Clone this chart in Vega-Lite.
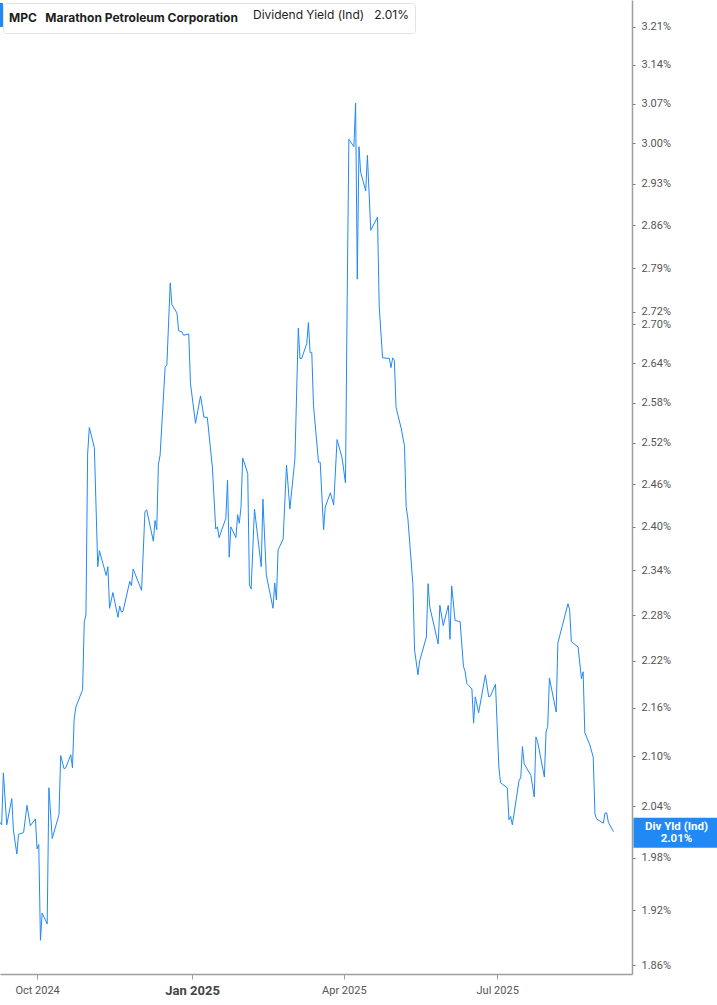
{
  "$schema": "https://vega.github.io/schema/vega-lite/v6.json",
  "width": 632,
  "height": 974,
  "autosize": {"type": "none"},
  "padding": {"left": 0, "top": 0, "right": 85, "bottom": 31},
  "background": "white",
  "config": {"view": {"stroke": null}, "font": "Roboto"},
  "data": {"values": [
    {"date": "2024-09-09", "yield": 2.021},
    {"date": "2024-09-10", "yield": 2.018},
    {"date": "2024-09-11", "yield": 2.080},
    {"date": "2024-09-13", "yield": 2.018},
    {"date": "2024-09-16", "yield": 2.049},
    {"date": "2024-09-17", "yield": 2.011},
    {"date": "2024-09-19", "yield": 1.984},
    {"date": "2024-09-20", "yield": 2.007},
    {"date": "2024-09-23", "yield": 2.009},
    {"date": "2024-09-25", "yield": 2.041},
    {"date": "2024-09-27", "yield": 2.017},
    {"date": "2024-09-30", "yield": 2.025},
    {"date": "2024-10-01", "yield": 1.990},
    {"date": "2024-10-02", "yield": 1.995},
    {"date": "2024-10-03", "yield": 1.887},
    {"date": "2024-10-04", "yield": 1.917},
    {"date": "2024-10-07", "yield": 1.905},
    {"date": "2024-10-08", "yield": 2.062},
    {"date": "2024-10-10", "yield": 2.002},
    {"date": "2024-10-14", "yield": 2.030},
    {"date": "2024-10-15", "yield": 2.101},
    {"date": "2024-10-17", "yield": 2.085},
    {"date": "2024-10-18", "yield": 2.086},
    {"date": "2024-10-21", "yield": 2.102},
    {"date": "2024-10-22", "yield": 2.086},
    {"date": "2024-10-23", "yield": 2.146},
    {"date": "2024-10-24", "yield": 2.161},
    {"date": "2024-10-28", "yield": 2.183},
    {"date": "2024-10-29", "yield": 2.271},
    {"date": "2024-10-30", "yield": 2.280},
    {"date": "2024-10-31", "yield": 2.504},
    {"date": "2024-11-01", "yield": 2.543},
    {"date": "2024-11-04", "yield": 2.513},
    {"date": "2024-11-06", "yield": 2.345},
    {"date": "2024-11-07", "yield": 2.367},
    {"date": "2024-11-11", "yield": 2.333},
    {"date": "2024-11-12", "yield": 2.345},
    {"date": "2024-11-13", "yield": 2.289},
    {"date": "2024-11-15", "yield": 2.310},
    {"date": "2024-11-18", "yield": 2.277},
    {"date": "2024-11-19", "yield": 2.292},
    {"date": "2024-11-20", "yield": 2.284},
    {"date": "2024-11-21", "yield": 2.285},
    {"date": "2024-11-25", "yield": 2.325},
    {"date": "2024-11-26", "yield": 2.319},
    {"date": "2024-11-27", "yield": 2.342},
    {"date": "2024-12-02", "yield": 2.313},
    {"date": "2024-12-04", "yield": 2.421},
    {"date": "2024-12-05", "yield": 2.424},
    {"date": "2024-12-09", "yield": 2.380},
    {"date": "2024-12-10", "yield": 2.409},
    {"date": "2024-12-11", "yield": 2.396},
    {"date": "2024-12-12", "yield": 2.489},
    {"date": "2024-12-13", "yield": 2.502},
    {"date": "2024-12-16", "yield": 2.634},
    {"date": "2024-12-17", "yield": 2.637},
    {"date": "2024-12-19", "yield": 2.766},
    {"date": "2024-12-20", "yield": 2.731},
    {"date": "2024-12-23", "yield": 2.718},
    {"date": "2024-12-24", "yield": 2.690},
    {"date": "2024-12-26", "yield": 2.688},
    {"date": "2024-12-27", "yield": 2.683},
    {"date": "2024-12-30", "yield": 2.685},
    {"date": "2024-12-31", "yield": 2.609},
    {"date": "2025-01-03", "yield": 2.549},
    {"date": "2025-01-06", "yield": 2.590},
    {"date": "2025-01-08", "yield": 2.558},
    {"date": "2025-01-10", "yield": 2.558},
    {"date": "2025-01-13", "yield": 2.485},
    {"date": "2025-01-15", "yield": 2.397},
    {"date": "2025-01-16", "yield": 2.400},
    {"date": "2025-01-17", "yield": 2.385},
    {"date": "2025-01-21", "yield": 2.412},
    {"date": "2025-01-22", "yield": 2.466},
    {"date": "2025-01-23", "yield": 2.358},
    {"date": "2025-01-24", "yield": 2.400},
    {"date": "2025-01-27", "yield": 2.385},
    {"date": "2025-01-28", "yield": 2.417},
    {"date": "2025-01-29", "yield": 2.405},
    {"date": "2025-01-30", "yield": 2.428},
    {"date": "2025-01-31", "yield": 2.498},
    {"date": "2025-02-03", "yield": 2.476},
    {"date": "2025-02-04", "yield": 2.320},
    {"date": "2025-02-05", "yield": 2.315},
    {"date": "2025-02-07", "yield": 2.425},
    {"date": "2025-02-11", "yield": 2.345},
    {"date": "2025-02-12", "yield": 2.439},
    {"date": "2025-02-14", "yield": 2.334},
    {"date": "2025-02-18", "yield": 2.289},
    {"date": "2025-02-19", "yield": 2.323},
    {"date": "2025-02-20", "yield": 2.300},
    {"date": "2025-02-21", "yield": 2.368},
    {"date": "2025-02-24", "yield": 2.383},
    {"date": "2025-02-26", "yield": 2.488},
    {"date": "2025-02-28", "yield": 2.425},
    {"date": "2025-03-03", "yield": 2.497},
    {"date": "2025-03-05", "yield": 2.694},
    {"date": "2025-03-06", "yield": 2.647},
    {"date": "2025-03-07", "yield": 2.647},
    {"date": "2025-03-10", "yield": 2.670},
    {"date": "2025-03-11", "yield": 2.703},
    {"date": "2025-03-12", "yield": 2.656},
    {"date": "2025-03-13", "yield": 2.656},
    {"date": "2025-03-14", "yield": 2.576},
    {"date": "2025-03-17", "yield": 2.492},
    {"date": "2025-03-18", "yield": 2.492},
    {"date": "2025-03-20", "yield": 2.396},
    {"date": "2025-03-21", "yield": 2.428},
    {"date": "2025-03-24", "yield": 2.448},
    {"date": "2025-03-26", "yield": 2.431},
    {"date": "2025-03-28", "yield": 2.525},
    {"date": "2025-03-31", "yield": 2.498},
    {"date": "2025-04-02", "yield": 2.462},
    {"date": "2025-04-03", "yield": 2.739},
    {"date": "2025-04-04", "yield": 3.007},
    {"date": "2025-04-07", "yield": 2.994},
    {"date": "2025-04-08", "yield": 3.071},
    {"date": "2025-04-09", "yield": 2.772},
    {"date": "2025-04-10", "yield": 2.994},
    {"date": "2025-04-11", "yield": 2.950},
    {"date": "2025-04-14", "yield": 2.918},
    {"date": "2025-04-15", "yield": 2.979},
    {"date": "2025-04-17", "yield": 2.852},
    {"date": "2025-04-21", "yield": 2.874},
    {"date": "2025-04-22", "yield": 2.729},
    {"date": "2025-04-24", "yield": 2.648},
    {"date": "2025-04-28", "yield": 2.647},
    {"date": "2025-04-29", "yield": 2.633},
    {"date": "2025-04-30", "yield": 2.648},
    {"date": "2025-05-01", "yield": 2.644},
    {"date": "2025-05-02", "yield": 2.573},
    {"date": "2025-05-05", "yield": 2.542},
    {"date": "2025-05-07", "yield": 2.516},
    {"date": "2025-05-08", "yield": 2.428},
    {"date": "2025-05-09", "yield": 2.412},
    {"date": "2025-05-12", "yield": 2.321},
    {"date": "2025-05-13", "yield": 2.234},
    {"date": "2025-05-15", "yield": 2.202},
    {"date": "2025-05-16", "yield": 2.220},
    {"date": "2025-05-20", "yield": 2.251},
    {"date": "2025-05-21", "yield": 2.322},
    {"date": "2025-05-22", "yield": 2.291},
    {"date": "2025-05-27", "yield": 2.242},
    {"date": "2025-05-28", "yield": 2.293},
    {"date": "2025-05-30", "yield": 2.266},
    {"date": "2025-06-02", "yield": 2.293},
    {"date": "2025-06-03", "yield": 2.248},
    {"date": "2025-06-04", "yield": 2.319},
    {"date": "2025-06-06", "yield": 2.273},
    {"date": "2025-06-09", "yield": 2.271},
    {"date": "2025-06-11", "yield": 2.213},
    {"date": "2025-06-12", "yield": 2.206},
    {"date": "2025-06-13", "yield": 2.191},
    {"date": "2025-06-16", "yield": 2.184},
    {"date": "2025-06-17", "yield": 2.141},
    {"date": "2025-06-18", "yield": 2.174},
    {"date": "2025-06-20", "yield": 2.154},
    {"date": "2025-06-24", "yield": 2.202},
    {"date": "2025-06-26", "yield": 2.174},
    {"date": "2025-06-27", "yield": 2.175},
    {"date": "2025-06-30", "yield": 2.190},
    {"date": "2025-07-02", "yield": 2.087},
    {"date": "2025-07-03", "yield": 2.068},
    {"date": "2025-07-07", "yield": 2.062},
    {"date": "2025-07-08", "yield": 2.024},
    {"date": "2025-07-09", "yield": 2.028},
    {"date": "2025-07-10", "yield": 2.018},
    {"date": "2025-07-14", "yield": 2.071},
    {"date": "2025-07-15", "yield": 2.074},
    {"date": "2025-07-16", "yield": 2.112},
    {"date": "2025-07-17", "yield": 2.091},
    {"date": "2025-07-21", "yield": 2.077},
    {"date": "2025-07-23", "yield": 2.051},
    {"date": "2025-07-24", "yield": 2.124},
    {"date": "2025-07-25", "yield": 2.118},
    {"date": "2025-07-29", "yield": 2.075},
    {"date": "2025-07-30", "yield": 2.130},
    {"date": "2025-07-31", "yield": 2.137},
    {"date": "2025-08-01", "yield": 2.198},
    {"date": "2025-08-05", "yield": 2.155},
    {"date": "2025-08-06", "yield": 2.243},
    {"date": "2025-08-12", "yield": 2.295},
    {"date": "2025-08-13", "yield": 2.287},
    {"date": "2025-08-14", "yield": 2.245},
    {"date": "2025-08-18", "yield": 2.238},
    {"date": "2025-08-20", "yield": 2.197},
    {"date": "2025-08-21", "yield": 2.206},
    {"date": "2025-08-22", "yield": 2.129},
    {"date": "2025-08-25", "yield": 2.114},
    {"date": "2025-08-27", "yield": 2.099},
    {"date": "2025-08-28", "yield": 2.031},
    {"date": "2025-08-29", "yield": 2.025},
    {"date": "2025-09-02", "yield": 2.020},
    {"date": "2025-09-03", "yield": 2.032},
    {"date": "2025-09-04", "yield": 2.032},
    {"date": "2025-09-05", "yield": 2.021},
    {"date": "2025-09-08", "yield": 2.010}
  ]},
  "encoding": {
    "x": {
      "field": "date", "type": "temporal",
      "scale": {"type": "utc", "domain": [{"year": 2024, "month": 9, "date": 9, "utc": true}, {"year": 2025, "month": 9, "date": 19, "utc": true}]},
      "axis": {
        "title": null, "grid": false,
        "values": [{"year": 2024, "month": 10, "date": 1, "utc": true}, {"year": 2025, "month": 1, "date": 1, "utc": true}, {"year": 2025, "month": 4, "date": 1, "utc": true}, {"year": 2025, "month": 7, "date": 1, "utc": true}],
        "labelExpr": "utcFormat(datum.value, '%b %Y')",
        "domainColor": "#9e9e9e", "domainWidth": 1.5, "tickColor": "#9e9e9e", "tickSize": 5, "labelPadding": 5,
        "labelFont": "Roboto",
        "labelFontSize": {"condition": {"test": "utcmonth(datum.value) == 0", "value": 13}, "value": 11},
        "labelFontWeight": {"condition": {"test": "utcmonth(datum.value) == 0", "value": "bold"}, "value": "normal"},
        "labelColor": {"condition": {"test": "utcmonth(datum.value) == 0", "value": "#444"}, "value": "#555"},
        "labelOverlap": false, "labelFlush": false
      }
    },
    "y": {
      "field": "yield", "type": "quantitative",
      "scale": {"type": "log", "domain": [1.8503, 3.2608], "nice": false, "zero": false},
      "axis": {
        "orient": "right", "title": null, "grid": false,
        "values": [1.86, 1.92, 1.98, 2.04, 2.10, 2.16, 2.22, 2.28, 2.34, 2.40, 2.46, 2.52, 2.58, 2.64, 2.70, 2.72, 2.79, 2.86, 2.93, 3.00, 3.07, 3.14, 3.21],
        "labelExpr": "format(datum.value, '.2f') + '%'",
        "domainColor": "#9e9e9e", "domainWidth": 1.5, "tickColor": "#777", "tickSize": 3, "labelPadding": 6,
        "labelFont": "Roboto", "labelFontSize": 11, "labelColor": "#555",
        "labelOverlap": false, "labelBound": false, "labelFlush": false
      }
    }
  },
  "layer": [
    {
      "mark": {"type": "line", "strokeWidth": 1, "interpolate": "linear"},
      "encoding": {
        "color": {
          "datum": "Dividend Yield (Ind)\u00a0\u00a0\u00a02.01%",
          "scale": {"range": ["#2189f5"]},
          "legend": {
            "orient": "none", "legendX": 3, "legendY": 3,
            "title": "\u00a0MPC\u00a0\u00a0\u00a0Marathon Petroleum Corporation",
            "titleOrient": "left", "titleFont": "Inter", "titleFontSize": 12, "titleFontWeight": "bold", "titleColor": "#1d1d1d", "titlePadding": 0, "titleLimit": 500,
            "labelFont": "Inter", "labelFontSize": 12, "labelColor": "#1d1d1d", "labelLimit": 400, "labelOffset": 3,
            "symbolType": "M -244 -12 L -241 -12 L -241 12 L -244 12 Z", "symbolSize": 4, "symbolStrokeWidth": 0,
            "symbolFillColor": "#2189f5", "symbolStrokeColor": "transparent",
            "fillColor": "white", "strokeColor": "#e3e3e3", "cornerRadius": 3, "padding": 6
          }
        }
      }
    },
    {
      "transform": [{"filter": "datum.yield == 2.01"}],
      "mark": {"type": "point", "shape": "M 20 -14 L 106 -14 L 106 16 L 20 16 Z", "size": 4, "filled": true, "color": "#2189f5", "opacity": 1, "strokeWidth": 0}
    },
    {
      "transform": [{"filter": "datum.yield == 2.01"}],
      "mark": {"type": "text", "text": ["Div Yld (Ind)", "2.01%"], "dx": 63, "dy": -5, "align": "center", "baseline": "middle", "color": "white", "fontWeight": "bold", "fontSize": 11.5, "lineHeight": 12, "font": "Roboto"}
    }
  ]
}
